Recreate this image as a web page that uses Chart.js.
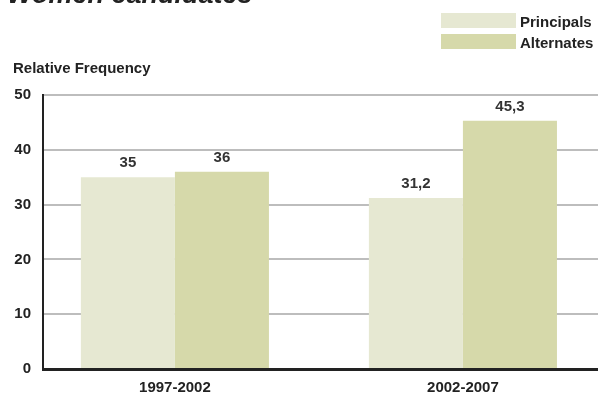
<!DOCTYPE html>
<html>
<head>
<meta charset="utf-8">
<title>Women candidates</title>
<script src="https://cdn.jsdelivr.net/npm/chart.js@4.4.1/dist/chart.umd.min.js"></script>
<style>
  html, body { margin: 0; padding: 0; background: #fff; }
  #wrap { position: relative; width: 598px; height: 397px; }
</style>
</head>
<body>
<div id="wrap"><canvas id="womenChart"></canvas></div>
<script>
const periods = ['1997-2002', '2002-2007'];
const principals = [35, 31.2];
const alternates = [36, 45.3];
const yTicks = [0, 10, 20, 30, 40, 50];
const seriesNames = ['Principals', 'Alternates'];
const seriesColors = ['#e6e8d2', '#d6d9aa'];

const FONT = '"Liberation Sans", Arial, sans-serif';
const INK = '#222';

const toPoints = (values) => values.map((v, i) => ({ x: i, y: v }));
const fmt = (v) => String(v).replace('.', ',');

// value printed above every bar (decimal comma)
const barValues = {
    id: 'barValues',
    afterDatasetsDraw(chart) {
        const ctx = chart.ctx;
        ctx.save();
        ctx.font = 'bold 15px ' + FONT;
        ctx.fillStyle = '#333';
        ctx.textAlign = 'center';
        ctx.textBaseline = 'alphabetic';
        chart.data.datasets.forEach((ds, di) => {
            chart.getDatasetMeta(di).data.forEach((bar, i) => {
                ctx.fillText(fmt(ds.data[i].y), bar.x, bar.y - 10);
            });
        });
        ctx.restore();
    }
};

// stacked legend top right + axis caption above the y axis
const sideNotes = {
    id: 'sideNotes',
    afterDraw(chart) {
        const ctx = chart.ctx;
        ctx.save();
        ctx.font = 'bold 15px ' + FONT;
        ctx.textBaseline = 'alphabetic';
        ctx.textAlign = 'left';
        ctx.fillStyle = INK;
        ctx.fillText('Relative Frequency', 13, 73);
        chart.data.datasets.forEach((ds, i) => {
            const top = 13 + i * 21;
            ctx.fillStyle = ds.backgroundColor;
            ctx.fillRect(441, top, 75, 15);
            ctx.fillStyle = INK;
            ctx.fillText(ds.label, 520, top + 13.5);
        });
        ctx.restore();
    }
};

const tickFont = { family: FONT, size: 15, weight: 'bold' };

new Chart(document.getElementById('womenChart'), {
    type: 'bar',
    data: {
        datasets: [
            { label: seriesNames[0], data: toPoints(principals), backgroundColor: seriesColors[0] },
            { label: seriesNames[1], data: toPoints(alternates), backgroundColor: seriesColors[1] }
        ]
    },
    options: {
        responsive: true,
        maintainAspectRatio: false,
        animation: false,
        devicePixelRatio: 1,
        categoryPercentage: 0.653,
        barPercentage: 1,
        layout: { padding: { left: 7 } },
        plugins: {
            legend: { display: false },
            tooltip: { enabled: false },
            title: {
                display: true,
                text: 'Women candidates',
                align: 'start',
                color: INK,
                font: { family: FONT, size: 27, weight: 'bold', style: 'italic', lineHeight: 1.2 },
                padding: { top: -21, bottom: 83.6 }
            }
        },
        scales: {
            x: {
                type: 'linear',
                min: -0.458,
                max: 1.469,
                offset: false,
                z: 1,
                afterBuildTicks: (s) => { s.ticks = periods.map((p, i) => ({ value: i })); },
                afterFit: (s) => { s.height = 28; },
                grid: { display: false, drawTicks: false, offset: false },
                border: { display: true, color: INK, width: 3 },
                ticks: {
                    callback: (v) => periods[v],
                    padding: 10,
                    color: INK,
                    maxRotation: 0,
                    font: tickFont
                }
            },
            y: {
                min: 0,
                max: 50,
                afterBuildTicks: (s) => { s.ticks = yTicks.map(v => ({ value: v })); },
                afterFit: (s) => { s.width = 36; },
                grid: {
                    color: (c) => (c.tick && c.tick.value === 0) ? 'rgba(0,0,0,0)' : '#bdbdbd',
                    lineWidth: 2,
                    drawTicks: false
                },
                border: { color: INK, width: 2 },
                ticks: { padding: 12, color: INK, font: tickFont }
            }
        }
    },
    plugins: [barValues, sideNotes]
});
</script>
</body>
</html>
